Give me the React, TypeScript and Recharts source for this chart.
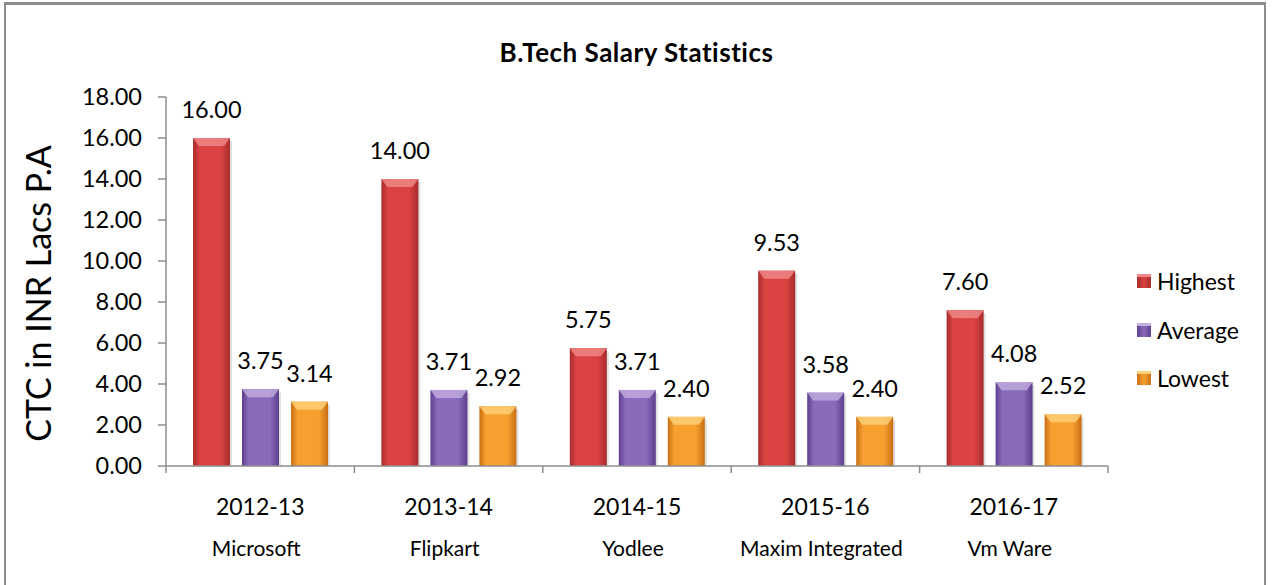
import React from 'react'
import { BarChart, Bar, XAxis, YAxis, LabelList } from 'recharts'

const years = ['2012-13', '2013-14', '2014-15', '2015-16', '2016-17']
const companies = ['Microsoft', 'Flipkart', 'Yodlee', 'Maxim Integrated', 'Vm Ware']
const highest = [16.0, 14.0, 5.75, 9.53, 7.6]
const average = [3.75, 3.71, 3.71, 3.58, 4.08]
const lowest = [3.14, 2.92, 2.4, 2.4, 2.52]
const yTicks = [0, 2, 4, 6, 8, 10, 12, 14, 16, 18]
const seriesNames = ['Highest', 'Average', 'Lowest']

const data = years.map((year, i) => ({
  year,
  company: companies[i],
  highest: highest[i],
  average: average[i],
  lowest: lowest[i],
}))

const FONT = 'Lato, "Open Sans", sans-serif'
const AXIS = '#8c8c8c'

const SERIES = [
  { key: 'highest', edge: '#a82c2c', mid: '#db4242', cap: '#f08a8a' },
  { key: 'average', edge: '#5e3f8e', mid: '#8a6bbb', cap: '#c2aee0' },
  { key: 'lowest', edge: '#c86f14', mid: '#f7a030', cap: '#ffd27a' },
]

const PLOT_LEFT = 166
const PLOT_RIGHT = 1108
const BAND = (PLOT_RIGHT - PLOT_LEFT) / years.length

const BevelBar = ({ x, y, width, height, idx }: any) => {
  if (!height || height <= 0) return null
  const s = SERIES[idx]
  const inset = Math.min(6, width / 5)
  const capH = Math.min(8, height / 3)
  return (
    <g>
      <rect x={x + 2} y={y + 3} width={width} height={height - 3} fill="rgba(0,0,0,0.12)" />
      <rect x={x} y={y} width={width} height={height} fill={`url(#grad-${s.key})`} />
      <polygon
        points={`${x},${y} ${x + width},${y} ${x + width - inset},${y + capH} ${x + inset},${y + capH}`}
        fill={s.cap}
        opacity={0.8}
      />
    </g>
  )
}

const CategoryTick = ({ x, y, payload, index }: any) => {
  const i = index ?? years.indexOf(payload.value)
  return (
    <g>
      <line x1={x - BAND / 2} x2={x - BAND / 2} y1={y} y2={y + 7} stroke={AXIS} strokeWidth={1.5} />
      {i === years.length - 1 && (
        <line x1={x + BAND / 2} x2={x + BAND / 2} y1={y} y2={y + 7} stroke={AXIS} strokeWidth={1.5} />
      )}
      <text x={x} y={y + 40} textAnchor="middle" dominantBaseline="central" fontSize={23} fill="#000" fontFamily={FONT}>
        {payload.value}
      </text>
      <text x={x - 4} y={y + 81} textAnchor="middle" dominantBaseline="central" fontSize={21} fill="#000" fontFamily={FONT}>
        {companies[i]}
      </text>
    </g>
  )
}

export default function App() {
  return (
    <div style={{ position: 'absolute', left: 0, top: 0, width: 1273, height: 585, background: '#fff', overflow: 'hidden' }}>
      <div
        style={{
          position: 'absolute',
          left: 4,
          top: 2,
          width: 1262,
          height: 620,
          border: '2px solid #8c8c8c',
          borderTopWidth: 3,
          boxSizing: 'border-box',
        }}
      />
      <div
        style={{
          position: 'absolute',
          left: 0,
          top: 36,
          width: 1273,
          textAlign: 'center',
          fontFamily: FONT,
          fontWeight: 700,
          fontSize: 26,
          letterSpacing: 0.5,
          color: '#000',
        }}
      >
        B.Tech Salary Statistics
      </div>
      <div style={{ position: 'absolute', left: 0, top: 0 }}>
        <BarChart
          width={1273}
          height={585}
          data={data}
          margin={{ top: 97, right: 1273 - PLOT_RIGHT, bottom: 0, left: 0 }}
          barSize={37}
          barGap={12}
        >
          <defs>
            {SERIES.map((s) => (
              <linearGradient key={s.key} id={`grad-${s.key}`} x1="0" y1="0" x2="1" y2="0">
                <stop offset="0%" stopColor={s.edge} />
                <stop offset="18%" stopColor={s.mid} />
                <stop offset="75%" stopColor={s.mid} />
                <stop offset="100%" stopColor={s.edge} />
              </linearGradient>
            ))}
          </defs>
          <XAxis
            dataKey="year"
            height={119}
            axisLine={{ stroke: AXIS, strokeWidth: 1.5 }}
            tickLine={false}
            tickSize={0}
            tickMargin={0}
            tick={<CategoryTick />}
            interval={0}
          />
          <YAxis
            width={PLOT_LEFT}
            domain={[0, 18]}
            ticks={yTicks}
            interval={0}
            tickFormatter={(v: number) => v.toFixed(2)}
            axisLine={{ stroke: AXIS, strokeWidth: 1.5 }}
            tickLine={{ stroke: AXIS, strokeWidth: 1.5 }}
            tickSize={8}
            tickMargin={16}
            tick={{ fill: '#000', fontSize: 23.5, fontFamily: FONT }}
            label={{
              value: 'CTC in INR Lacs P.A',
              angle: -90,
              position: 'center',
              dx: -44,
              dy: 12,
              style: { fontSize: 34, fontFamily: FONT, fill: '#000', textAnchor: 'middle' },
            }}
          />
          {SERIES.map((s, i) => (
            <Bar
              key={s.key}
              dataKey={s.key}
              name={seriesNames[i]}
              fill={s.mid}
              isAnimationActive={false}
              shape={(p: any) => <BevelBar {...p} idx={i} />}
            >
              <LabelList
                dataKey={s.key}
                position="top"
                offset={20}
                formatter={(v: any) => Number(v).toFixed(2)}
                style={{ fill: '#000', fontSize: 23.5, fontFamily: FONT }}
              />
            </Bar>
          ))}
        </BarChart>
      </div>
      <div style={{ position: 'absolute', left: 1137, top: 257, fontFamily: FONT, fontSize: 23, color: '#000' }}>
        {SERIES.map((s, i) => (
          <div key={s.key} style={{ display: 'flex', alignItems: 'center', height: 48.5 }}>
            <span
              style={{
                display: 'inline-block',
                width: 14,
                height: 14,
                marginRight: 6,
                background: `linear-gradient(90deg, ${s.edge}, ${s.mid}, ${s.edge})`,
                borderTop: `3px solid ${s.cap}`,
                boxSizing: 'border-box',
              }}
            />
            {seriesNames[i]}
          </div>
        ))}
      </div>
    </div>
  )
}
